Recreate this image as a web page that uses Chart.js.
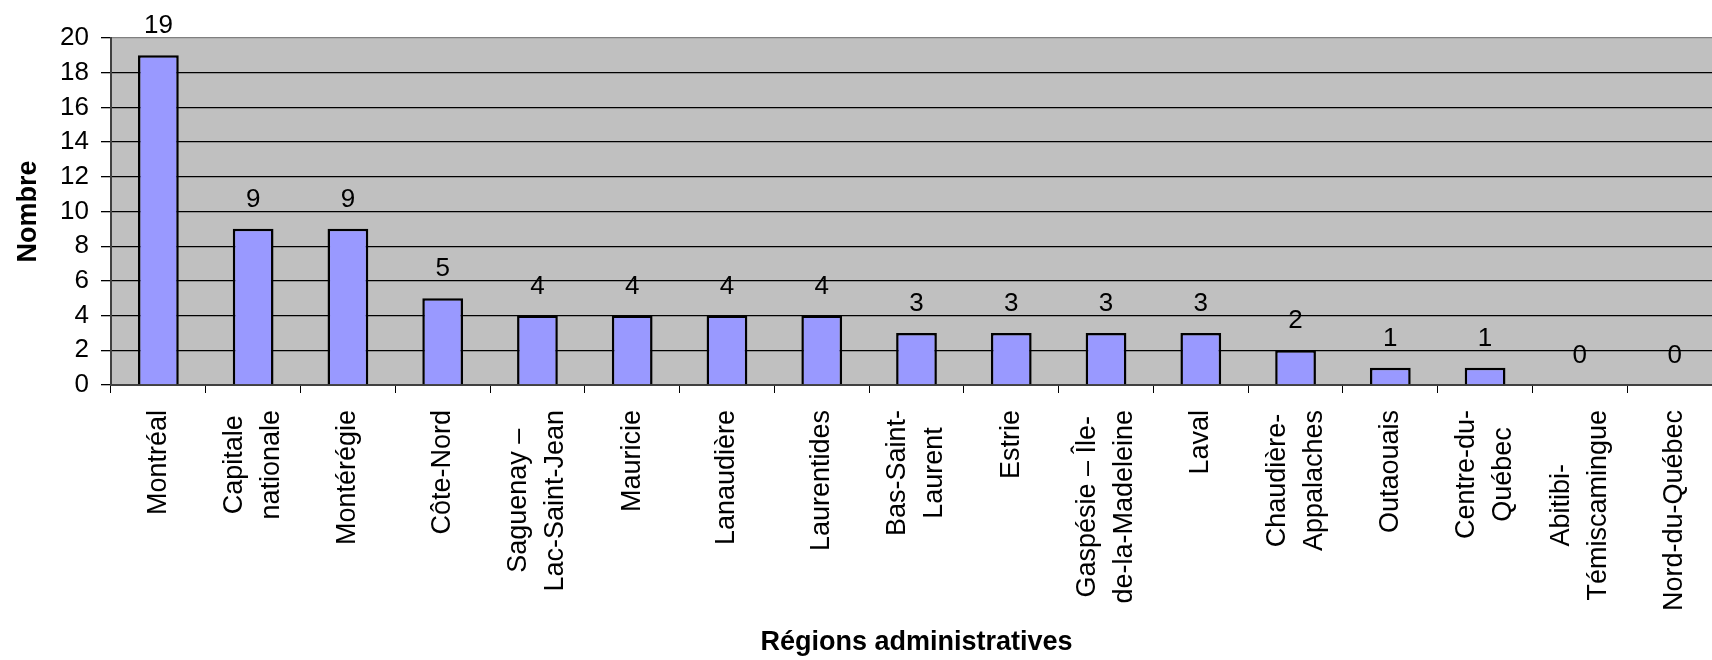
<!DOCTYPE html>
<html>
<head>
<meta charset="utf-8">
<script src="https://cdn.jsdelivr.net/npm/chart.js@4.4.1/dist/chart.umd.min.js"></script>
<style>
  html, body { margin: 0; padding: 0; background: #fff; }
  /* plot runs a little past the right edge, so the frame clips it */
  #wrap { width: 1712px; height: 660px; overflow: hidden; position: relative; }
  #wrap canvas { position: absolute; left: 0; top: 0; }
</style>
</head>
<body>
<div id="wrap"><canvas id="chart" width="1730" height="660"></canvas></div>
<script>
const FONT = '"Liberation Sans", Arial, sans-serif';

const regions = [
  ['Montréal'], ['Capitale', 'nationale'], ['Montérégie'], ['Côte-Nord'],
  ['Saguenay –', 'Lac-Saint-Jean'], ['Mauricie'], ['Lanaudière'], ['Laurentides'],
  ['Bas-Saint-', 'Laurent'], ['Estrie'], ['Gaspésie – Île-', 'de-la-Madeleine'], ['Laval'],
  ['Chaudière-', 'Appalaches'], ['Outaouais'], ['Centre-du-', 'Québec'],
  ['Abitibi-', 'Témiscamingue'], ['Nord-du-Québec']
];
const counts = [19, 9, 9, 5, 4, 4, 4, 4, 3, 3, 3, 3, 2, 1, 1, 0, 0];
const yTicks = [0, 2, 4, 6, 8, 10, 12, 14, 16, 18, 20];

// grey plot area
const plotBg = {
  id: 'plotBg',
  beforeDraw(chart) {
    const { ctx, chartArea: a } = chart;
    ctx.save();
    ctx.fillStyle = '#C0C0C0';
    ctx.fillRect(a.left, a.top, a.right - a.left, a.bottom - a.top);
    ctx.restore();
  }
};

// count above each bar
const barValues = {
  id: 'barValues',
  afterDatasetsDraw(chart) {
    const ctx = chart.ctx;
    const ds = chart.data.datasets[0];
    ctx.save();
    ctx.font = '26px ' + FONT;
    ctx.fillStyle = '#000';
    ctx.textAlign = 'center';
    ctx.textBaseline = 'alphabetic';
    chart.getDatasetMeta(0).data.forEach((bar, i) => {
      ctx.fillText(String(ds.data[i]), bar.x, bar.y - 22);
    });
    ctx.restore();
  }
};

// vertical region names, each line centred on the longest one
const regionLabels = {
  id: 'regionLabels',
  afterDraw(chart) {
    const ctx = chart.ctx;
    const sx = chart.scales.x;
    const lh = 37;
    ctx.save();
    ctx.font = '27px ' + FONT;
    ctx.fillStyle = '#000';
    ctx.textAlign = 'center';
    ctx.textBaseline = 'middle';
    chart.data.labels.forEach((lines, i) => {
      const x = sx.getPixelForTick(i);
      const longest = Math.max(...lines.map(l => ctx.measureText(l).width));
      ctx.save();
      ctx.translate(x, sx.top + 25 + longest / 2);
      ctx.rotate(-Math.PI / 2);
      lines.forEach((line, j) => ctx.fillText(line, 0, (j - (lines.length - 1) / 2) * lh));
      ctx.restore();
    });
    ctx.restore();
  }
};

new Chart(document.getElementById('chart').getContext('2d'), {
  type: 'bar',
  data: {
    labels: regions,
    datasets: [{
      data: counts,
      backgroundColor: '#9999FF',
      borderColor: '#000',
      borderWidth: 2.5,
      barPercentage: 0.43,
      categoryPercentage: 1
    }]
  },
  options: {
    responsive: false,
    animation: false,
    devicePixelRatio: 1,
    layout: { padding: { top: 38, right: 8, left: 0, bottom: 0 } },
    plugins: { legend: { display: false }, tooltip: { enabled: false } },
    scales: {
      x: {
        afterFit: s => { s.height = 275; },
        grid: { offset: true, drawOnChartArea: false, drawTicks: true, tickLength: 8, color: '#000', lineWidth: 1 },
        border: { color: '#404040', width: 2 },
        ticks: { display: false },
        title: {
          display: true,
          text: 'Régions administratives',
          color: '#000',
          font: { family: FONT, size: 27, weight: 'bold' },
          padding: { top: 0, bottom: 1 }
        }
      },
      y: {
        min: 0,
        max: 20,
        afterFit: s => { s.width = 111; },
        afterBuildTicks: s => { s.ticks = yTicks.map(v => ({ value: v })); },
        grid: {
          color: c => (c.tick && c.tick.value === 20 ? '#808080' : '#000'),
          tickColor: '#000',
          lineWidth: 1.3,
          tickLength: 10
        },
        border: { color: '#404040', width: 2 },
        ticks: { color: '#000', padding: 12, font: { family: FONT, size: 26 } },
        title: {
          display: true,
          text: 'Nombre',
          color: '#000',
          font: { family: FONT, size: 27, weight: 'bold' },
          padding: { top: 12, bottom: 0 }
        }
      }
    }
  },
  plugins: [plotBg, barValues, regionLabels]
});
</script>
</body>
</html>
